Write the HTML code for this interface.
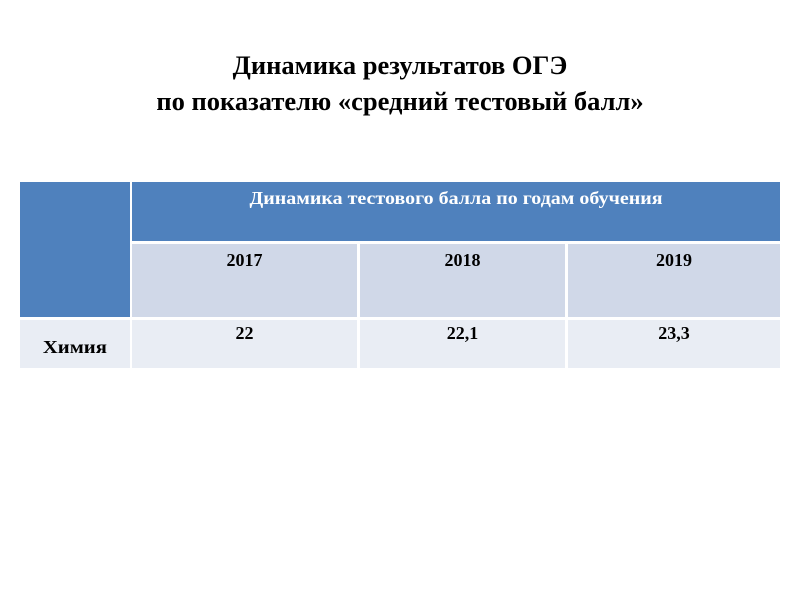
<!DOCTYPE html>
<html><head><meta charset="utf-8"><style>
body{margin:0;width:800px;height:600px;background:#fff;position:relative;font-family:"Liberation Serif",serif;overflow:hidden}
.t{position:absolute;left:0;width:800px;text-align:center;font-weight:bold;font-size:26.5px;color:#000}
.c{position:absolute;box-sizing:border-box;text-align:center;font-weight:bold;font-size:18px}
</style></head><body>
<div class="t" style="top:50px">Динамика результатов ОГЭ</div>
<div class="t" style="top:86px">по показателю «средний тестовый балл»</div>
<div class="c" style="left:20px;top:182px;width:110px;height:135px;background:#4f81bd"></div>
<div class="c" style="left:132px;top:182px;width:648px;height:59px;background:#4f81bd;color:#fff;padding-top:6px"><span style="display:inline-block;transform:scaleX(1.11)">Динамика тестового балла по годам обучения</span></div>
<div class="c" style="left:132px;top:244px;width:225px;height:73px;background:#d0d8e8;padding-top:6px">2017</div>
<div class="c" style="left:360px;top:244px;width:205px;height:73px;background:#d0d8e8;padding-top:6px">2018</div>
<div class="c" style="left:568px;top:244px;width:212px;height:73px;background:#d0d8e8;padding-top:6px">2019</div>
<div class="c" style="left:20px;top:320px;width:110px;height:48px;background:#e9edf4;padding-top:17px"><span style="display:inline-block;transform:scaleX(1.15)">Химия</span></div>
<div class="c" style="left:132px;top:320px;width:225px;height:48px;background:#e9edf4;padding-top:3px">22</div>
<div class="c" style="left:360px;top:320px;width:205px;height:48px;background:#e9edf4;padding-top:3px">22,1</div>
<div class="c" style="left:568px;top:320px;width:212px;height:48px;background:#e9edf4;padding-top:3px">23,3</div>
</body></html>
